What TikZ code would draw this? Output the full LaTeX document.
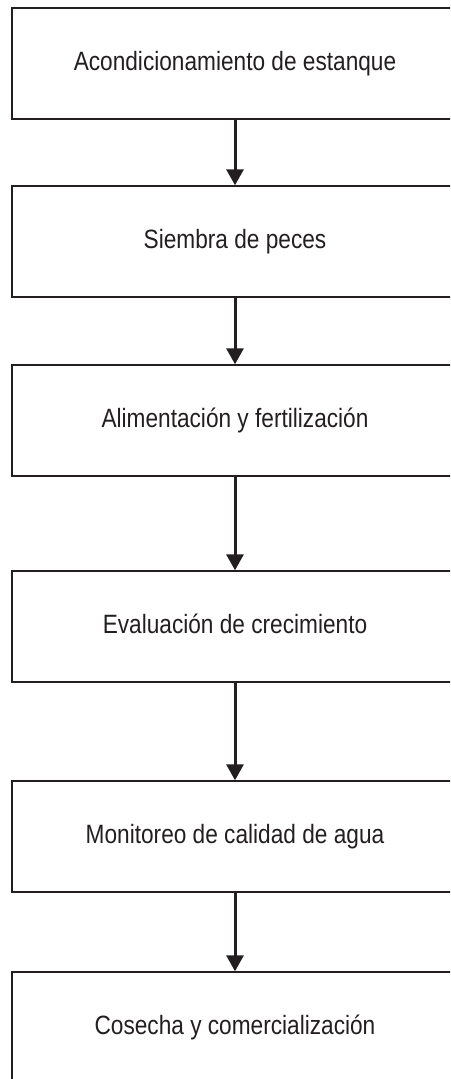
\documentclass[tikz,border=0pt]{standalone}
\usepackage{fontspec}
\setmainfont[FakeStretch=0.855]{Liberation Sans}
\usetikzlibrary{arrows.meta}
\definecolor{ink}{HTML}{231F20}
\begin{document}
\begin{tikzpicture}[x=1pt,y=-1pt,
  box/.style={draw=ink, line width=1.4pt, minimum width=446pt, minimum height=111pt,
    inner sep=0pt, text height=19pt, text depth=5pt,
    font=\fontsize{26.5}{30}\selectfont, text=ink},
  conn/.style={draw=ink, line width=3pt, -{Triangle[length=16pt,width=17pt]}}]
\clip (0,0) rectangle (450,1079);
\fill[white] (0,0) rectangle (450,1079);
\node[box] (b1) at (235,63.5) {Acondicionamiento de estanque};
\node[box] (b2) at (235,241.5) {Siembra de peces};
\node[box] (b3) at (235,420.5) {Alimentación y fertilización};
\node[box] (b4) at (235,626.5) {Evaluación de crecimiento};
\node[box] (b5) at (235,836.5) {Monitoreo de calidad de agua};
\node[box] (b6) at (235,1027.5) {Cosecha y comercialización};
\draw[conn] (b1.south) -- (b2.north);
\draw[conn] (b2.south) -- (b3.north);
\draw[conn] (b3.south) -- (b4.north);
\draw[conn] (b4.south) -- (b5.north);
\draw[conn] (b5.south) -- (b6.north);
\end{tikzpicture}
\end{document}
